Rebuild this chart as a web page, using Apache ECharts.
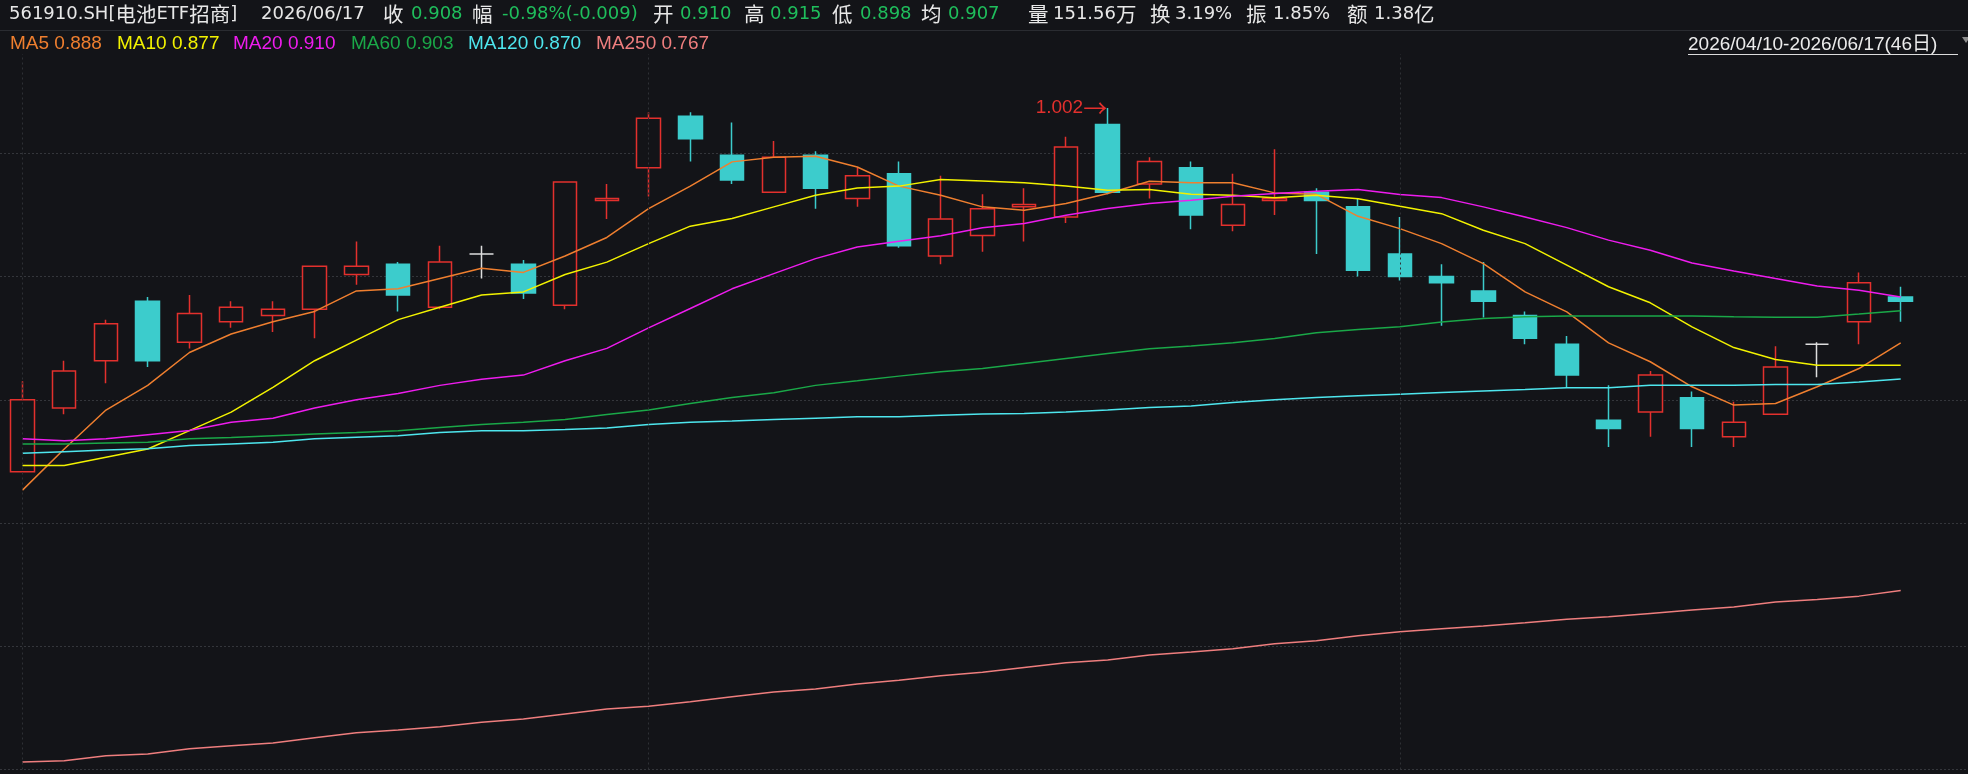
<!DOCTYPE html>
<html><head><meta charset="utf-8">
<style>html,body{margin:0;padding:0;background:#131418;}#c{width:1968px;height:774px;}</style>
<script src="https://cdn.jsdelivr.net/npm/echarts@6/dist/echarts.min.js"></script>
</head><body><div id="c"></div>
<script>
// ---------------- data ----------------
const dates = [
 '2026/04/10','2026/04/13','2026/04/14','2026/04/15','2026/04/16','2026/04/17',
 '2026/04/20','2026/04/21','2026/04/22','2026/04/23','2026/04/24',
 '2026/04/27','2026/04/28','2026/04/29','2026/04/30',
 '2026/05/06','2026/05/07','2026/05/08',
 '2026/05/11','2026/05/12','2026/05/13','2026/05/14','2026/05/15',
 '2026/05/18','2026/05/19','2026/05/20','2026/05/21','2026/05/22',
 '2026/05/25','2026/05/26','2026/05/27','2026/05/28','2026/05/29',
 '2026/06/01','2026/06/02','2026/06/03','2026/06/04','2026/06/05',
 '2026/06/08','2026/06/09','2026/06/10','2026/06/11','2026/06/12',
 '2026/06/15','2026/06/16','2026/06/17'];
const openP  = [0.825,0.856,0.879,0.908,0.888,0.898,0.901,0.904,0.921,0.926,0.905,0.931,0.926,0.906,0.957,0.973,0.998,0.979,0.961,0.979,0.958,0.970,0.930,0.940,0.954,0.949,0.994,0.965,0.973,0.945,0.957,0.961,0.954,0.931,0.920,0.913,0.901,0.887,0.850,0.854,0.861,0.842,0.853,0.887,0.898,0.910];
const closeP = [0.860,0.874,0.897,0.879,0.902,0.905,0.904,0.925,0.925,0.911,0.927,0.931,0.912,0.966,0.958,0.997,0.987,0.967,0.978,0.963,0.969,0.935,0.948,0.953,0.955,0.983,0.961,0.976,0.950,0.955,0.958,0.957,0.923,0.920,0.917,0.908,0.890,0.872,0.846,0.872,0.846,0.849,0.876,0.887,0.917,0.908];
const lowP   = [0.825,0.853,0.868,0.876,0.885,0.895,0.893,0.890,0.916,0.903,0.904,0.919,0.909,0.904,0.948,0.959,0.976,0.965,0.961,0.953,0.954,0.934,0.926,0.932,0.937,0.946,0.960,0.958,0.943,0.942,0.950,0.931,0.920,0.918,0.896,0.900,0.887,0.866,0.837,0.842,0.837,0.837,0.853,0.871,0.887,0.898];
const highP  = [0.869,0.879,0.899,0.910,0.911,0.908,0.908,0.925,0.937,0.927,0.935,0.935,0.928,0.966,0.965,1.000,1.000,0.995,0.986,0.981,0.973,0.976,0.969,0.960,0.963,0.988,1.002,0.978,0.976,0.970,0.982,0.963,0.958,0.949,0.926,0.927,0.903,0.891,0.867,0.874,0.864,0.859,0.886,0.888,0.922,0.915];

const ma5   = [0.816,0.836,0.855,0.867,0.883,0.892,0.898,0.903,0.913,0.914,0.919,0.924,0.922,0.930,0.939,0.953,0.964,0.9758,0.978,0.9785,0.9733,0.964,0.9596,0.9539,0.9523,0.9555,0.9604,0.9664,0.9656,0.9656,0.9607,0.960,0.9493,0.9433,0.936,0.9263,0.9125,0.9028,0.8877,0.8785,0.8663,0.8574,0.8582,0.8663,0.8752,0.8877];
const ma10  = [0.828,0.828,0.832,0.836,0.845,0.854,0.866,0.879,0.889,0.899,0.905,0.911,0.9125,0.921,0.927,0.936,0.9445,0.9482,0.9539,0.9596,0.9631,0.964,0.9672,0.9665,0.9656,0.964,0.962,0.9623,0.960,0.9596,0.9583,0.9596,0.9579,0.9542,0.9506,0.9425,0.936,0.9255,0.915,0.9072,0.8955,0.8854,0.8796,0.8768,0.8768,0.8768];
const ma20  = [0.841,0.840,0.841,0.843,0.845,0.849,0.851,0.856,0.860,0.863,0.867,0.870,0.872,0.879,0.885,0.895,0.9044,0.914,0.9214,0.9287,0.9344,0.9372,0.9398,0.9437,0.9458,0.9498,0.9531,0.9555,0.9571,0.9591,0.9604,0.9615,0.9623,0.9599,0.9584,0.9539,0.949,0.9438,0.9377,0.9328,0.9266,0.9227,0.919,0.9154,0.9133,0.9100];
const ma60  = [0.8385,0.8385,0.839,0.8393,0.841,0.8416,0.8425,0.8433,0.844,0.8449,0.8465,0.848,0.849,0.8504,0.8528,0.855,0.8582,0.8611,0.8634,0.867,0.8692,0.8715,0.8736,0.8752,0.8777,0.8801,0.8825,0.8848,0.8862,0.8877,0.8898,0.8926,0.8942,0.8955,0.8979,0.8996,0.9004,0.9008,0.9008,0.9008,0.9008,0.9004,0.9002,0.9002,0.9017,0.9033];
const ma120 = [0.8339,0.8347,0.8355,0.8361,0.8377,0.8385,0.8393,0.841,0.8418,0.8425,0.844,0.8449,0.8449,0.8455,0.8463,0.848,0.849,0.8496,0.8504,0.851,0.8517,0.8517,0.8525,0.8531,0.8533,0.854,0.855,0.8562,0.857,0.8587,0.86,0.8611,0.8619,0.8627,0.8635,0.8643,0.865,0.8658,0.8658,0.867,0.867,0.867,0.8674,0.8674,0.8687,0.8701];
const ma250 = [0.6836,0.6843,0.6867,0.6875,0.6901,0.6916,0.6929,0.6955,0.6979,0.6992,0.7008,0.703,0.7046,0.707,0.7094,0.7108,0.713,0.7154,0.7177,0.7192,0.7216,0.7234,0.7256,0.7273,0.7297,0.732,0.7333,0.7357,0.7372,0.7388,0.7412,0.7427,0.7451,0.7471,0.7485,0.7498,0.7514,0.7531,0.7544,0.756,0.7576,0.7591,0.7615,0.7628,0.7644,0.7671];

const maNames = ['MA5','MA10','MA20','MA60','MA120','MA250'];
const monthStarts = ['2026/04/10','2026/05/06','2026/06/01'];
const priceTicks = {min: 0.68, max: 1.04, step: 0.06};

const headerTexts = ['561910.SH[电池ETF招商]','2026/06/17','收','0.908','幅','-0.98%(-0.009)','开','0.910','高','0.915','低','0.898','均','0.907','量','151.56万','换','3.19%','振','1.85%','额','1.38亿'];
const rangeText = '2026/04/10-2026/06/17(46日)';

// ---------------- style / layout ----------------
const BG = '#131418';
const RED = '#e3302d';
const CYAN = '#3ccccc';
const GREEN_TXT = '#1fbe5c';
const WHITE_TXT = '#e8e8e8';
const maColors = ['#ef7f2f','#f2f200','#ee1cee','#1aa848','#4ee6ee','#ef7e7e'];
const headerX = [9,261,383,411,472,502,653,680,744,770,832,860,921,948,1028,1053,1150,1175,1246,1273,1347,1374];
const headerGreen = [3,5,7,9,11,13];
const legendX = [10,117,233,351,468,596];
const GRID_TOP = 30, GRID_BOTTOM = 4.5;
const BAND = 41.738;
const GRID_LEFT = 22.5 - BAND / 2;
const GRID_RIGHT = 1968 - GRID_LEFT - BAND * dates.length;

const candleData = dates.map((d, i) => [openP[i], closeP[i], lowP[i], highP[i]]);
let maxIdx = 0;
highP.forEach((h, i) => { if (h > highP[maxIdx]) maxIdx = i; });

const maData = [ma5, ma10, ma20, ma60, ma120, ma250];

// split a string into latin / CJK runs as rich text
function toRich(t) {
  const runs = t.match(/[\u3000-\u9fff\uff00-\uffef]+|[^\u3000-\u9fff\uff00-\uffef]+/g) || [];
  return runs.map(r => (/[\u3000-\u9fff\uff00-\uffef]/.test(r) ? '{c|' : '{l|') + r + '}').join('');
}

const graphic = [
  {type:'rect', shape:{x:0, y:31, width:1968, height:23}, style:{fill:BG}, z:100, silent:true},
  {type:'line', shape:{x1:0, y1:30.5, x2:1968, y2:30.5}, style:{stroke:'#2a2c31', lineWidth:1}, z:101, silent:true}
];
headerTexts.forEach((t, i) => {
  const col = headerGreen.includes(i) ? GREEN_TXT : WHITE_TXT;
  graphic.push({type:'text', x: headerX[i], y: 14, z: 102, silent:true,
    style:{text: toRich(t), fill: col, align:'left', verticalAlign:'middle',
      rich:{
        l:{fill:col, fontSize:18, fontFamily:'"DejaVu Sans",sans-serif', verticalAlign:'middle', lineHeight:22},
        c:{fill:col, fontSize:20.5, fontFamily:'"Noto Sans CJK SC",sans-serif', verticalAlign:'middle', lineHeight:22}
      }}});
});
maNames.forEach((n, i) => {
  const arr = maData[i];
  graphic.push({type:'text', x: legendX[i], y: 44, z: 102, silent:true,
    style:{text: n + ' ' + arr[arr.length - 1].toFixed(3), fill: maColors[i],
      fontSize:19, fontFamily:'"Liberation Sans",Arial,sans-serif',
      align:'left', verticalAlign:'middle'}});
});
graphic.push({type:'text', x: 1688, y: 44.6, z: 102, silent:true,
  style:{text: rangeText, fill:'#ececec', fontSize:19,
    fontFamily:'"Liberation Sans","Noto Sans CJK SC",sans-serif', align:'left', verticalAlign:'middle'}});
graphic.push({type:'line', shape:{x1:1688, y1:54.5, x2:1958, y2:54.5}, style:{stroke:'#dcdcdc', lineWidth:1}, z:102, silent:true});
graphic.push({type:'polygon', shape:{points:[[1962,37],[1970,37],[1966,43]]}, style:{fill:'#8c8c8c'}, z:102, silent:true});

const series = [{
  type:'candlestick', name:'K', xAxisIndex:0, yAxisIndex:0,
  data: candleData, barWidth: 24, z: 2,
  itemStyle:{color: BG, color0: CYAN, borderColor: RED, borderColor0: CYAN,
    borderColorDoji:'#dddddd', borderWidth:1.5},
  markLine:{silent:true, symbol:['none','none'], label:{show:false},
    lineStyle:{color:'#2e3035', type:[2,3], width:1},
    emphasis:{disabled:true},
    data: monthStarts.map(d => ({xAxis: d}))},
  markPoint:{symbol:'circle', symbolSize:1, itemStyle:{color:'rgba(0,0,0,0)'},
    data:[{coord:[dates[maxIdx], highP[maxIdx]], value: highP[maxIdx]}],
    label:{show:true, position:'left', distance:0,
      formatter: p => '{a|' + p.value.toFixed(3) + '}{b|→}',
      rich:{a:{color:RED, fontSize:19, fontFamily:'"Liberation Sans",Arial,sans-serif'},
            b:{color:RED, fontSize:24, fontFamily:'"Noto Sans CJK SC",sans-serif'}}}}
}];
maData.forEach((arr, i) => {
  series.push({type:'line', name: maNames[i], xAxisIndex:0, yAxisIndex:0, data: arr,
    showSymbol:false, symbol:'none', smooth:false, z: 3,
    lineStyle:{color: maColors[i], width:1.5}});
});

const chart = echarts.init(document.getElementById('c'), null, {renderer:'canvas'});
chart.setOption({
  backgroundColor: BG,
  animation: false,
  grid: [
    {left: GRID_LEFT, right: GRID_RIGHT, top: GRID_TOP, bottom: GRID_BOTTOM},
    {left: 0, right: 0, top: GRID_TOP, bottom: GRID_BOTTOM}
  ],
  xAxis: [
    {type:'category', gridIndex:0, data: dates, boundaryGap:true, show:false},
    {type:'value', gridIndex:1, min:0, max:1, show:false}
  ],
  yAxis: [
    {type:'value', gridIndex:0, min: priceTicks.min, max: priceTicks.max, show:false, splitLine:{show:false}},
    {type:'value', gridIndex:1, min: priceTicks.min, max: priceTicks.max, interval: priceTicks.step,
      axisLine:{show:false}, axisTick:{show:false}, axisLabel:{show:false},
      splitLine:{show:true, lineStyle:{color:'#34363b', type:[2,2], width:1}}}
  ],
  series: series,
  graphic: graphic
});
</script>
</body></html>
